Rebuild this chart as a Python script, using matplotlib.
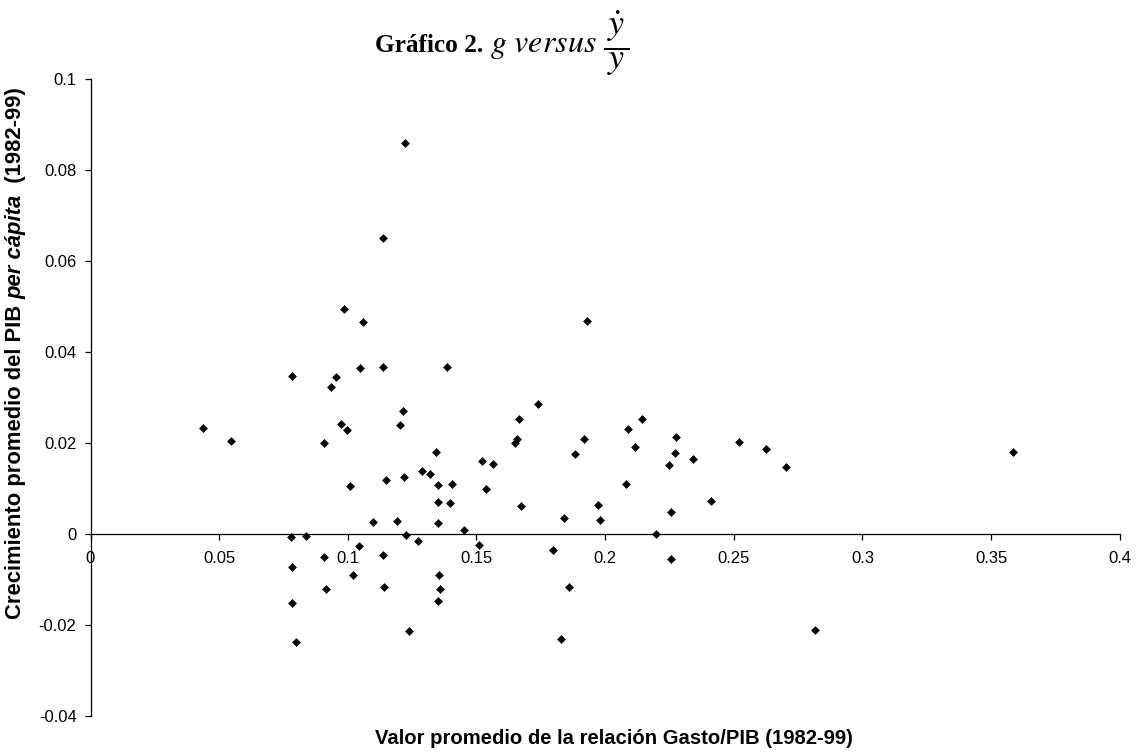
import matplotlib
matplotlib.use("Agg")
import matplotlib.pyplot as plt

# ---------------- data ----------------
gasto_pib = [
    0.0436, 0.0547, 0.0934, 0.0972, 0.0995, 0.0906, 0.1215, 0.1204, 0.1342, 0.1288,
    0.1318, 0.1149, 0.1219, 0.1008, 0.1349, 0.1406, 0.1349, 0.1398, 0.1096, 0.1192,
    0.1351, 0.1452, 0.0778, 0.0836, 0.1228, 0.1044, 0.1274, 0.0907, 0.1136, 0.0782,
    0.1020, 0.1353, 0.0914, 0.1141, 0.1359, 0.0783, 0.1349, 0.1236, 0.0798, 0.1135,
    0.0984, 0.1060, 0.0784, 0.0956, 0.1046, 0.1135, 0.1385, 0.1929, 0.1740, 0.1667,
    0.1657, 0.1648, 0.1917, 0.1882, 0.1520, 0.1565, 0.2088, 0.2144, 0.2117, 0.2275,
    0.2272, 0.2247, 0.2340, 0.2522, 0.2625, 0.2703, 0.1538, 0.2082, 0.1674, 0.1974,
    0.2411, 0.2255, 0.1840, 0.1979, 0.2196, 0.1510, 0.1798, 0.2255, 0.1860, 0.1827,
    0.2815, 0.1223, 0.3584,
]
crecimiento = [
    0.0233, 0.0204, 0.0323, 0.0243, 0.0228, 0.0201, 0.0270, 0.0239, 0.0181, 0.0139,
    0.0132, 0.0118, 0.0125, 0.0106, 0.0108, 0.0110, 0.0070, 0.0069, 0.0026, 0.0028,
    0.0024, 0.0009, -0.0007, -0.0004, -0.0002, -0.0026, -0.0016, -0.0050, -0.0046, -0.0072,
    -0.0090, -0.0090, -0.0120, -0.0117, -0.0120, -0.0152, -0.0147, -0.0214, -0.0237, 0.0651,
    0.0496, 0.0467, 0.0348, 0.0345, 0.0365, 0.0367, 0.0368, 0.0468, 0.0287, 0.0253,
    0.0210, 0.0200, 0.0209, 0.0177, 0.0160, 0.0155, 0.0232, 0.0253, 0.0192, 0.0213,
    0.0179, 0.0151, 0.0165, 0.0203, 0.0187, 0.0148, 0.0099, 0.0110, 0.0062, 0.0063,
    0.0072, 0.0048, 0.0036, 0.0031, 0.0001, -0.0023, -0.0035, -0.0054, -0.0117, -0.0231,
    -0.0211, 0.0861, 0.0180,
]
x_ticks = [0, 0.05, 0.1, 0.15, 0.2, 0.25, 0.3, 0.35, 0.4]
x_tick_labels = ["0", "0.05", "0.1", "0.15", "0.2", "0.25", "0.3", "0.35", "0.4"]
y_ticks = [-0.04, -0.02, 0, 0.02, 0.04, 0.06, 0.08, 0.1]
y_tick_labels = ["-0.04", "-0.02", "0", "0.02", "0.04", "0.06", "0.08", "0.1"]

title_bold = "Gráfico 2."
title_math = r"$g\ versus$"
title_frac = r"$\dfrac{\,\dot{y}\,}{\,y\,}$"
xlabel = "Valor promedio de la relación Gasto/PIB (1982-99)"
ylabel_parts = [("Crecimiento promedio del PIB ", "normal"),
                ("per cápita", "italic"),
                ("  (1982-99)", "normal")]

# ---------------- figure ----------------
plt.rcParams["font.family"] = ["Liberation Sans", "DejaVu Sans"]
plt.rcParams["mathtext.fontset"] = "stix"

W, H = 1136, 755
fig = plt.figure(figsize=(W / 100, H / 100), dpi=100)
fig.patch.set_facecolor("white")

def fx(px):
    return px / W

def fy(py):
    return 1 - py / H

x0, x1, y0, y1 = 90.5, 1119.7, 79.3, 716.0
ax = fig.add_axes([fx(x0), fy(y1), fx(x1) - fx(x0), fy(y0) - fy(y1)])

ax.plot(gasto_pib, crecimiento, linestyle="none", marker="D",
        markersize=3.8, markerfacecolor="black", markeredgecolor="black",
        markeredgewidth=0.4, clip_on=False)

ax.set_xlim(0, 0.4)
ax.set_ylim(-0.04, 0.1)
ax.set_xticks(x_ticks)
ax.set_xticklabels(x_tick_labels)
ax.set_yticks(y_ticks)
ax.set_yticklabels(y_tick_labels)

for s in ("top", "right"):
    ax.spines[s].set_visible(False)
ax.spines["bottom"].set_position(("data", 0))
for s in ("left", "bottom"):
    ax.spines[s].set_linewidth(0.9)
    ax.spines[s].set_color("black")

ax.tick_params(axis="x", direction="out", length=4, width=0.9, pad=8,
               labelsize=12, colors="black")
ax.tick_params(axis="y", direction="out", length=4, width=0.9, pad=6,
               labelsize=12, colors="black")
ax.patch.set_alpha(0)

# ---------------- title ----------------
fig.text(fx(483), fy(52), title_bold, ha="right", va="baseline",
         fontsize=18.2, fontweight="bold", family="Liberation Serif")
fig.text(fx(490), fy(52), title_math, ha="left", va="baseline", fontsize=23)
fig.text(fx(603), fy(55), title_frac, ha="left", va="baseline", fontsize=26)

# ---------------- x label ----------------
fig.text(fx(614), fy(738), xlabel, ha="center", va="center",
         fontsize=14.6, fontweight="bold")

# ---------------- y label (mixed style, rotated) ----------------
renderer = fig.canvas.get_renderer()
texts = []
for txt, style in ylabel_parts:
    t = fig.text(0, 0, txt, rotation=90, rotation_mode="anchor",
                 ha="left", va="center", fontsize=15.8, fontweight="bold",
                 style=style)
    texts.append(t)
lengths = [t.get_window_extent(renderer).height for t in texts]
total = sum(lengths)
center_y = 353.0
start = center_y + total / 2.0  # pixel from top
cur = start
for t, L in zip(texts, lengths):
    t.set_position((fx(16), fy(cur)))
    cur -= L

fig.savefig("out.png", dpi=100, facecolor="white")
